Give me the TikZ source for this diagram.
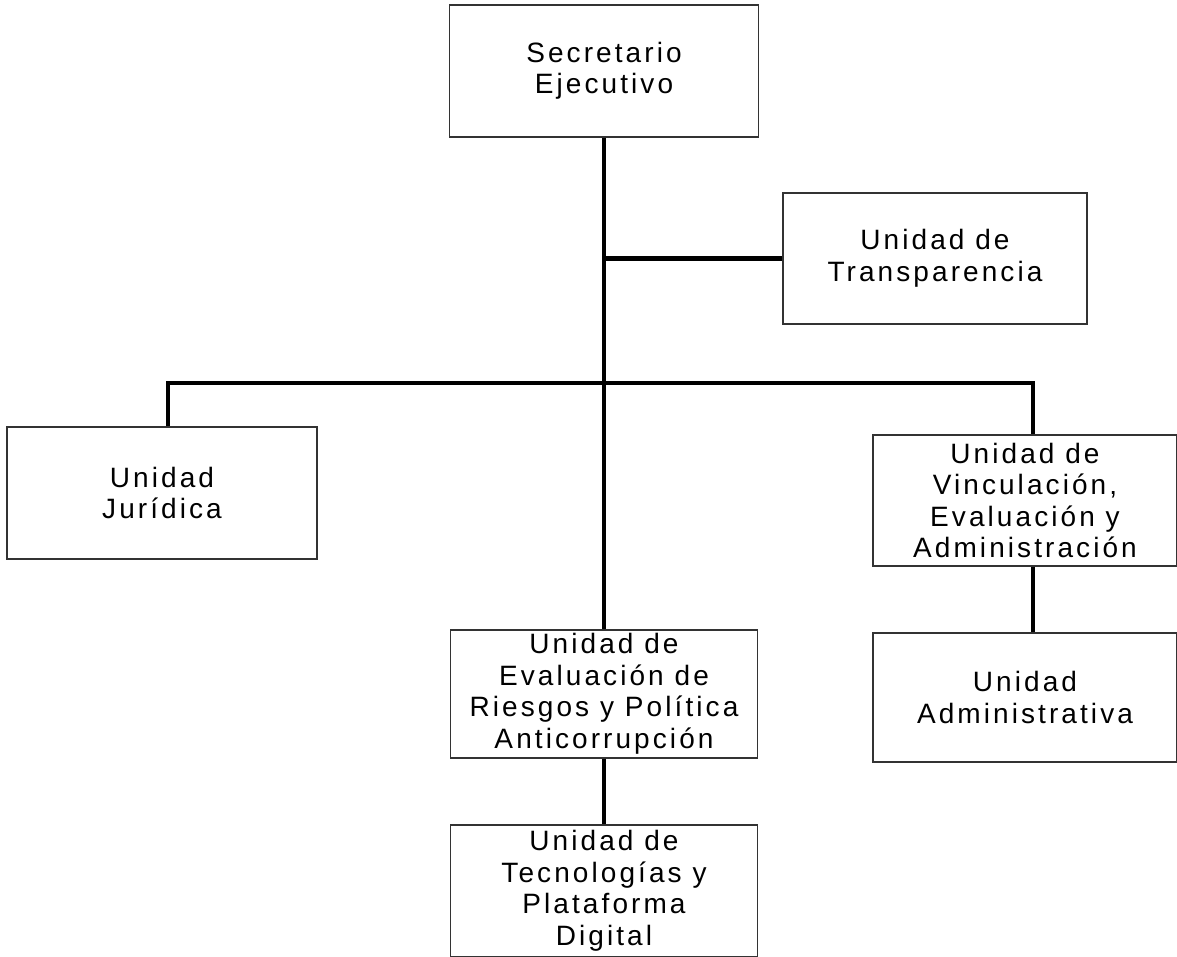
\documentclass[tikz,border=0pt]{standalone}
\usepackage{fontspec}
\setmainfont{Liberation Sans}[LetterSpace=11]
\newcommand{\unitfont}{\fontsize{28}{31.5}\selectfont}

\begin{document}
\begin{tikzpicture}[
		x={(1pt,0pt)},
		y={(0pt,-1pt)},
		unitbox/.style={draw=black!80,line width=1.3pt,fill=white,inner sep=0pt,align=center,font=\unitfont,minimum height=131pt},
		conn/.style={line width=4.5pt,black},
	]
	\useasboundingbox[fill=white] (0,0) rectangle (1177,957);

	\node[unitbox,minimum width=309pt,minimum height=132pt] (sec) at (604,71) {Secretario\\ Ejecutivo};
	\node[unitbox,minimum width=304pt] (transp) at (935,258.5) {Unidad de\\ Transparencia};
	\node[unitbox,minimum width=310pt,minimum height=132pt] (jur) at (162,493) {Unidad\\ Jurídica};
	\node[unitbox,minimum width=304pt] (vinc) at (1025,500.5) {Unidad de\\ Vinculación,\\ Evaluación y\\ Administración};
	\node[unitbox,minimum width=304pt,minimum height=129pt] (admin) at (1025,697.5) {Unidad\\ Administrativa};
	\node[unitbox,minimum width=307pt,minimum height=128pt] (eval) at (604,694) {Unidad de\\ Evaluación de\\ Riesgos y Política\\ Anticorrupción};
	\node[unitbox,minimum width=307pt,minimum height=132pt] (tecno) at (604,891) {Unidad de\\ Tecnologías y\\ Plataforma\\ Digital};

	\coordinate (bus) at (604,383);

	\draw[conn] (sec.south) -- (eval.north);
	\draw[conn] (sec.south |- transp.west) -- (transp.west);
	\draw[conn] ([xshift=6]jur.north) |- (bus) -| ([xshift=8]vinc.north);
	\draw[conn] ([xshift=8]vinc.south) -- ([xshift=8]admin.north);
	\draw[conn] (eval.south) -- (tecno.north);
\end{tikzpicture}
\end{document}
